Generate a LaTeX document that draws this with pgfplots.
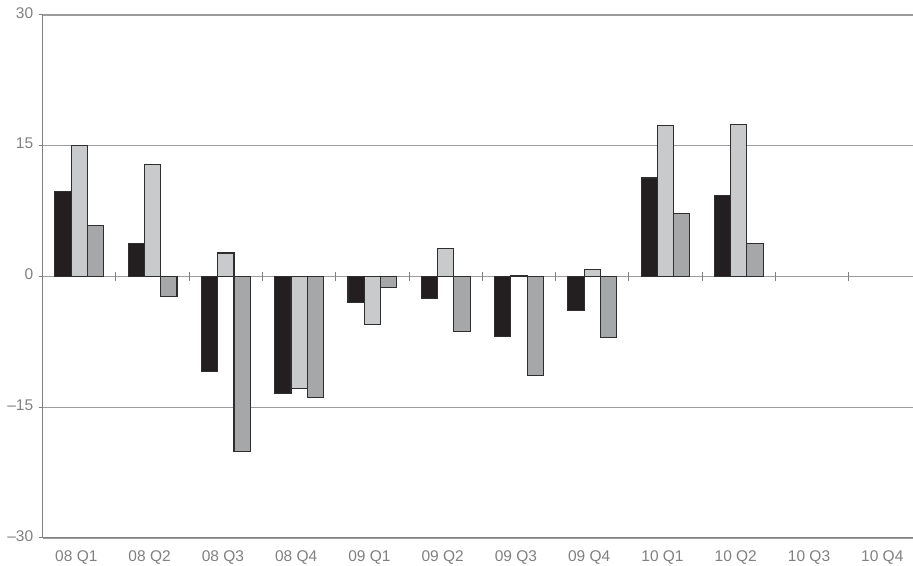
\documentclass[border=0pt]{standalone}
\usepackage{fontspec}
\setmainfont{Liberation Sans}
\usepackage{pgfplots}
\pgfplotsset{compat=1.18}

\definecolor{barblack}{HTML}{231F20}
\definecolor{barlight}{HTML}{C8CACB}
\definecolor{barmid}{HTML}{A6A7A9}
\definecolor{txtgray}{HTML}{808080}
\definecolor{gridgray}{HTML}{9C9C9C}
\definecolor{edge}{HTML}{2E2E2E}

\begin{document}
\begin{tikzpicture}
\begin{axis}[
    scale only axis,
    width=870.3pt, height=523pt,
    xmin=-0.5, xmax=11.378, ymin=-30, ymax=30,
    axis x line*=bottom, axis y line*=left,
    axis line style={-, draw=gray, line width=1pt},
    ybar, bar width=0.222,
    xtick={0,...,11},
    xticklabels={08 Q1,08 Q2,08 Q3,08 Q4,09 Q1,09 Q2,09 Q3,09 Q4,10 Q1,10 Q2,10 Q3,10 Q4},
    x tick style={draw=none},
    ytick={-30,-15,0,15,30},
    yticklabels={\textendash30,\textendash15,0,15,30},
    y tick style={draw=gray, line width=1pt},
    major tick length=4pt, tick align=outside,
    ymajorgrids, grid style={gridgray, line width=1.2pt},
    tick label style={font=\fontsize{15.5}{15.5}\selectfont, text=txtgray},
    xticklabel style={yshift=-5pt, xshift=-3pt},
    yticklabel style={xshift=-2pt, yshift=2pt},
]
\addplot[fill=barblack, draw=edge, line width=1.1pt, bar shift=-0.222] coordinates {
  (0,9.7) (1,3.8) (2,-10.9) (3,-13.4) (4,-3.0) (5,-2.5) (6,-6.9) (7,-3.9) (8,11.3) (9,9.3)};
\addplot[fill=barlight, draw=edge, line width=1.1pt, bar shift=0] coordinates {
  (0,15.0) (1,12.8) (2,2.7) (3,-12.9) (4,-5.5) (5,3.2) (6,0.1) (7,0.8) (8,17.3) (9,17.4)};
\addplot[fill=barmid, draw=edge, line width=1.1pt, bar shift=0.222] coordinates {
  (0,5.9) (1,-2.3) (2,-20.1) (3,-13.9) (4,-1.3) (5,-6.3) (6,-11.4) (7,-7.0) (8,7.2) (9,3.8)};
% category boundary ticks on the zero line
\pgfplotsinvokeforeach{0.5,1.5,2.5,3.5,4.5,5.5,6.5,7.5,8.5,9.5,10.5}{
  \draw[gray, line width=1pt] (axis cs:#1,-0.5) -- (axis cs:#1,0.5);
}
\end{axis}
\pgfresetboundingbox
\path[use as bounding box] ([shift={(-42.7pt,-28pt)}]current axis.south west)
  rectangle ([shift={(0pt,15pt)}]current axis.north east);
\end{tikzpicture}
\end{document}
